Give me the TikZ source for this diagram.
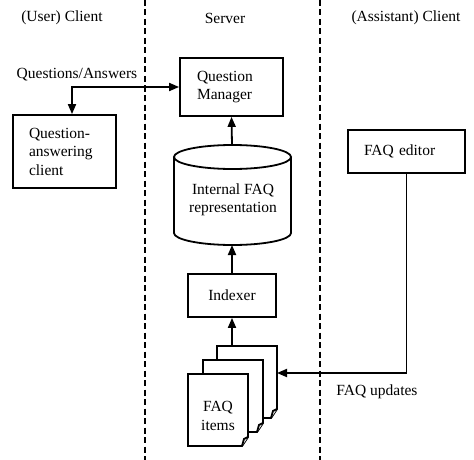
\documentclass[tikz,border=0pt]{standalone}
\usepackage{fontspec}
\setmainfont{Liberation Serif}
\usetikzlibrary{arrows.meta}
\newcommand\fsz{\fontsize{15.5}{18.5}\selectfont}
\newcommand\faqpage[2]{%
  \draw[pagebox] (#1,#2) -- ++(60,0) -- ++(0,63) -- ++(-6,9) -- ++(-54,0) -- cycle;
  \draw[pagebox] (#1+60,#2+63) -- ++(-4,2) -- ++(-2,7);}
\begin{document}
\begin{tikzpicture}[x=1pt,y=-1pt,
  box/.style={draw, line width=1.8pt, inner ysep=0pt, font=\fsz},
  lbl/.style={inner sep=0pt, font=\fsz},
  arr/.style={line width=1.8pt, -{Triangle[length=10pt,width=8pt]}},
  darr/.style={line width=1.8pt, {Triangle[length=10pt,width=8pt]}-{Triangle[length=10pt,width=8pt]}},
  divider/.style={line width=1.4pt, dash pattern=on 6pt off 3.5pt},
  pagebox/.style={line width=1.8pt, fill=white, line join=miter}]
\useasboundingbox (0,0) rectangle (474,460);
% dividers
\draw[divider] (145,0) -- (145,460);
\draw[divider] (320,0) -- (320,460);
% headers
\node[lbl] (h1) at (62,18) {(User) Client};
\node[lbl] (h2) at (225,18) {Server};
\node[lbl] (h3) at (406,18) {(Assistant) Client};
% boxes
\node[box, minimum height=73pt, text width=71pt, inner xsep=16pt, align=left] (qa) at (64.5,151.5) {Question-\\answering\\client};
\node[box, minimum height=58pt, text width=69pt, inner xsep=17pt, align=left] (qm) at (231.5,87) {Question\\Manager};
\node[box, minimum height=43pt, minimum width=88pt] (idx) at (232,295.5) {Indexer};
\node[box, minimum height=43pt, text width=85pt, inner xsep=16pt, align=left] (ed) at (406.5,151.5) {FAQ editor};
% cylinder
\draw[line width=1.8pt] (174,157) -- (174,233) arc[start angle=180, end angle=0, x radius=58.5, y radius=12] -- (291,157);
\draw[line width=1.8pt] (232.5,157) ellipse[x radius=58.5, y radius=12];
\node[lbl, align=center] (rep) at (233,200) {Internal FAQ\\representation};
\coordinate (cyltop) at (232,145);
\coordinate (cylbot) at (232,245);
% pages
\faqpage{217}{346}
\faqpage{203}{360}
\faqpage{188}{374}
\node[lbl, align=center] (items) at (218,416) {FAQ\\items};
\coordinate (pagetop) at (232,346);
\coordinate (pageright) at (277,373);
% labels
\node[lbl] (qalbl) at (77,75) {Questions/Answers};
\node[lbl] (uplbl) at (377,392) {FAQ updates};
% connectors
\draw[darr] ([xshift=7.5pt]qa.north) |- (qm.west);
\draw[arr] (cyltop) -- (qm.south);
\draw[arr] (idx.north) -- (cylbot);
\draw[arr] (pagetop) -- (idx.south);
\draw[arr] (ed.south) |- (pageright);
\end{tikzpicture}
\end{document}
